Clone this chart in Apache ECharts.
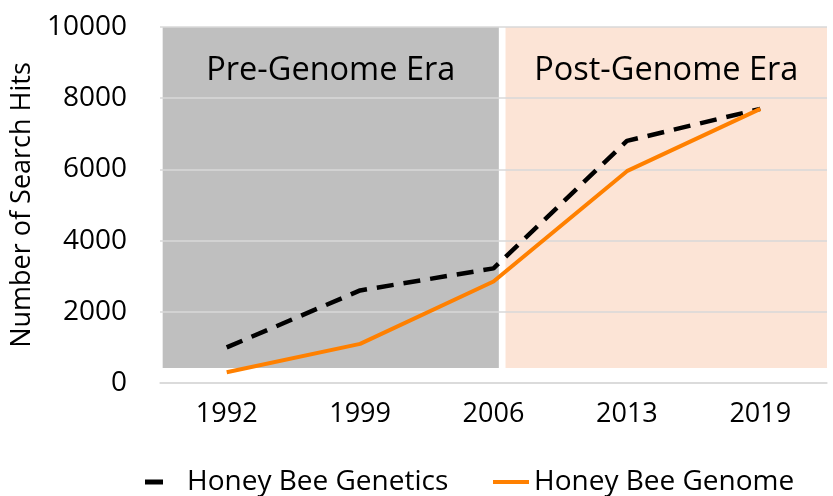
<!DOCTYPE html>
<html>
<head>
<meta charset="utf-8">
<script src="https://cdn.jsdelivr.net/npm/echarts@6/dist/echarts.min.js"></script>
<style>
  html, body { margin: 0; padding: 0; background: #fff; }
  #chart-container { width: 833px; height: 496px; }
</style>
</head>
<body>
<div id="chart-container"></div>
<script>
var years = ['1992', '1999', '2006', '2013', '2019'];
var geneticsHits = [1000, 2600, 3220, 6800, 7700];
var genomeHits = [300, 1100, 2850, 5950, 7700];
var eraNames = ['Pre-Genome Era', 'Post-Genome Era'];

var dom = document.getElementById('chart-container');
var myChart = echarts.init(dom, null, { renderer: 'canvas' });

var font = 'Open Sans';

var option = {
  animation: false,
  grid: { left: 160, right: 6, top: 27, bottom: 113 },
  xAxis: [
    {
      type: 'category',
      data: years,
      boundaryGap: true,
      axisLine: { lineStyle: { color: '#d9d9d9', width: 1.5 } },
      axisTick: { show: false },
      axisLabel: { fontFamily: font, fontSize: 27, color: '#000', margin: 18 }
    },
    {
      // helper axis for the shaded eras
      type: 'value',
      min: -0.5,
      max: 4.5,
      show: false
    }
  ],
  yAxis: {
    type: 'value',
    min: 0,
    max: 10000,
    interval: 2000,
    name: 'Number of Search Hits',
    nameLocation: 'middle',
    nameGap: 121,
    nameTextStyle: { fontFamily: font, fontSize: 27, color: '#000' },
    axisLine: { show: false },
    axisTick: { show: false },
    axisLabel: {
      fontFamily: font, fontSize: 28, color: '#000', margin: 33,
      formatter: function (v) { return String(v); }
    },
    splitLine: { lineStyle: { color: '#d9d9d9', width: 1.5 } }
  },
  legend: [
    {
      data: [{ name: 'Honey Bee Genetics', icon: 'rect' }],
      left: 145,
      top: 468,
      padding: 0,
      itemWidth: 18,
      itemHeight: 5,
      textStyle: { fontFamily: font, fontSize: 28, color: '#000', padding: [0, 0, 0, 19] }
    },
    {
      data: [{ name: 'Honey Bee Genome', icon: 'rect' }],
      left: 493,
      top: 468,
      padding: 0,
      itemWidth: 36,
      itemHeight: 4,
      textStyle: { fontFamily: font, fontSize: 28, color: '#000' }
    }
  ],
  series: [
    {
      type: 'line',
      xAxisIndex: 1,
      data: [],
      clip: false,
      silent: true,
      markArea: {
        z: -1,
        silent: true,
        label: {
          position: ['50%', 44],
          align: 'center',
          verticalAlign: 'middle',
          fontFamily: font,
          fontSize: 32.5,
          color: '#000'
        },
        data: [
          [
            { name: eraNames[0], xAxis: -0.48, yAxis: 10250, itemStyle: { color: '#bfbfbf' } },
            { xAxis: 2.04, yAxis: 420 }
          ],
          [
            { name: eraNames[1], xAxis: 2.09, yAxis: 10250, itemStyle: { color: '#fce4d6' } },
            { xAxis: 4.5, yAxis: 420 }
          ]
        ]
      }
    },
    {
      name: 'Honey Bee Genetics',
      type: 'line',
      data: geneticsHits,
      symbol: 'none',
      color: '#000',
      lineStyle: { color: '#000', width: 4.5, type: [17, 10] }
    },
    {
      name: 'Honey Bee Genome',
      type: 'line',
      data: genomeHits,
      symbol: 'none',
      color: '#ff8000',
      lineStyle: { color: '#ff8000', width: 4 }
    }
  ]
};

myChart.setOption(option);
window.addEventListener('resize', myChart.resize);
</script>
</body>
</html>
